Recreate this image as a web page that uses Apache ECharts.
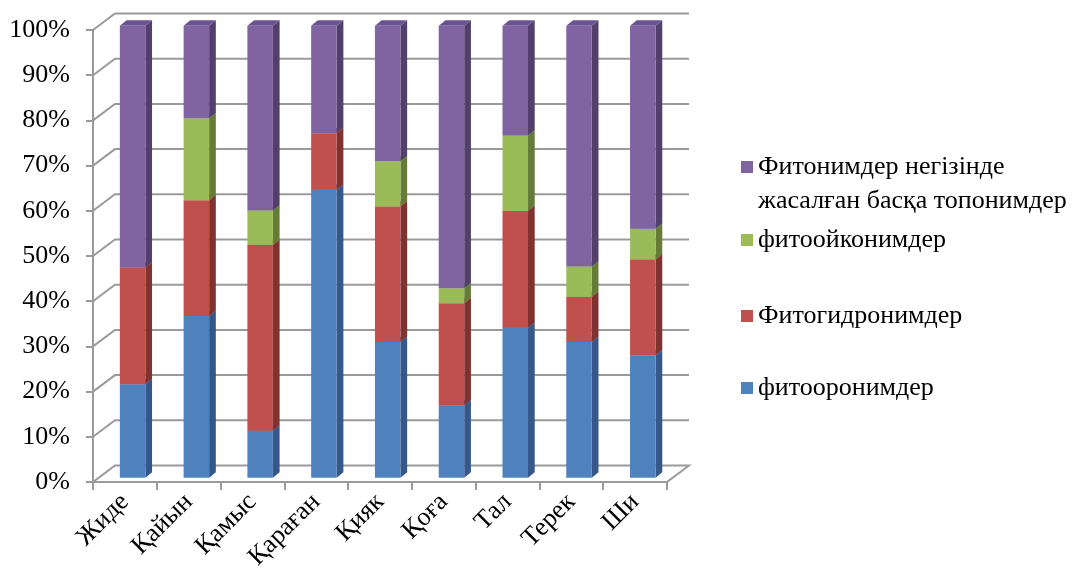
<!DOCTYPE html>
<html>
<head>
<meta charset="utf-8">
<script src="https://cdn.jsdelivr.net/npm/echarts@6/dist/echarts.min.js"></script>
<style>
  html, body { margin: 0; padding: 0; background: #ffffff; }
  #chart { width: 1075px; height: 574px; }
</style>
</head>
<body>
<div id="chart"></div>
<script>
// Categories (plant names) and the share of each toponym type, in percent
const categories = ['Жиде', 'Қайын', 'Қамыс', 'Қараған', 'Қияк', 'Қоға', 'Тал', 'Терек', 'Ши'];
const seriesNames = [
  'фитооронимдер',
  'Фитогидронимдер',
  'фитоойконимдер',
  'Фитонимдер негізінде жасалған басқа топонимдер'
];
const fitooronimder   = [20.7, 35.8, 10.4, 63.7, 30.0, 16.0, 33.2, 30.0, 27.1];
const fitogidronimder = [25.8, 25.6, 41.1, 12.5, 30.0, 22.6, 25.8, 10.0, 21.2];
const fitoojkonimder  = [0.0, 18.1, 7.6, 0.0, 10.0, 3.3, 16.7, 6.7, 6.8];
const baskaToponimder = [53.5, 20.5, 40.9, 23.8, 30.0, 58.1, 24.3, 53.3, 44.9];
const yTicks = [0, 10, 20, 30, 40, 50, 60, 70, 80, 90, 100];

const FONT = '"Liberation Serif", "Times New Roman", serif';
const FONT_SIZE = 26;
const GRID_COLOR = '#9a9a9a';
// 3D box: offset of the back wall from the front plane
const DEPTH = [22, -16.5];
// columns: front face offset from the front plane, and column depth
const BAR_FRONT = [7.7, -4.3];
const BAR_SIDE = [6.7, -5.4];
const BAR_WIDTH_RATIO = 0.40;

const faceColors = [
  { front: '#4F81BD', side: '#36578A', top: '#4673A9' },
  { front: '#C0504D', side: '#803230', top: '#A84542' },
  { front: '#9BBB59', side: '#657C36', top: '#87A44C' },
  { front: '#8064A2', side: '#523F6C', top: '#6A5390' }
];

// stack the four shares into [categoryIndex, start, end]
const valueSets = [fitooronimder, fitogidronimder, fitoojkonimder, baskaToponimder];
const runningTotal = categories.map(() => 0);
const stacked = valueSets.map(vals => vals.map((v, i) => {
  const s = runningTotal[i];
  runningTotal[i] += v;
  return [i, s, s + v];
}));

function renderColumn(colors) {
  return function (params, api) {
    const i = api.value(0);
    const v0 = api.value(1);
    const v1 = api.value(2);
    if (!(v1 - v0 > 0)) return { type: 'group', children: [] };
    const p0 = api.coord([i, v0]);
    const p1 = api.coord([i, v1]);
    const band = api.size([1, 0])[0];
    const w = band * BAR_WIDTH_RATIO;
    const xl = p0[0] - w / 2 + BAR_FRONT[0];
    const xr = xl + w;
    const yb = p0[1] + BAR_FRONT[1];
    const yt = p1[1] + BAR_FRONT[1];
    const dx = BAR_SIDE[0], dy = BAR_SIDE[1];
    return {
      type: 'group',
      children: [
        { type: 'polygon', shape: { points: [[xr, yb], [xr + dx, yb + dy], [xr + dx, yt + dy], [xr, yt]] },
          style: { fill: colors.side } },
        { type: 'polygon', shape: { points: [[xl, yt], [xr, yt], [xr + dx, yt + dy], [xl + dx, yt + dy]] },
          style: { fill: colors.top } },
        { type: 'rect', shape: { x: xl, y: yt, width: w, height: yb - yt },
          style: { fill: colors.front } }
      ]
    };
  };
}

// side wall diagonals and back wall gridlines, one polyline per tick value
function renderWall(params, api) {
  const v = api.value(1);
  const y = api.coord([0, v])[1];
  const cs = params.coordSys;
  const x0 = cs.x, x1 = cs.x + cs.width;
  const pts = [[x0, y], [x0 + DEPTH[0], y + DEPTH[1]], [x1 + DEPTH[0], y + DEPTH[1]]];
  if (v === 0) pts.push([x1, y]);
  return { type: 'polyline', shape: { points: pts },
           style: { stroke: GRID_COLOR, lineWidth: 2, fill: null } };
}

// one legend block per series, listed top-down from the last series
const LEGEND_LINE = 30;
const LEGEND_LINE_WRAPPED = 34;
const legendMarkerCenters = [388, 316, 240, 167];
const legends = seriesNames.map((name, k) => {
  const wrapped = k === 3;
  const lh = wrapped ? LEGEND_LINE_WRAPPED : LEGEND_LINE;
  // a wrapped label gets a leading blank line so that its first line sits beside the marker
  const blockHeight = wrapped ? lh * 3 : lh;
  const lg = {
    data: [name],
    left: 741,
    top: legendMarkerCenters[k] - blockHeight / 2,
    orient: 'vertical',
    icon: 'rect',
    itemWidth: 12,
    itemHeight: 12,
    padding: 0,
    selectedMode: false,
    textStyle: { fontFamily: FONT, fontSize: FONT_SIZE, color: '#000', lineHeight: lh }
  };
  if (wrapped) {
    lg.formatter = n => '\n' + n.replace(' жасалған', '\nжасалған');
  }
  return lg;
});

const chart = echarts.init(document.getElementById('chart'), null, { renderer: 'canvas' });
chart.setOption({
  animation: false,
  backgroundColor: '#ffffff',
  color: faceColors.map(c => c.front),
  legend: legends,
  grid: { left: 93, right: 408, top: 30, bottom: 92, containLabel: false },
  xAxis: {
    type: 'category',
    data: categories,
    boundaryGap: true,
    axisLine: { show: true, lineStyle: { color: GRID_COLOR, width: 2 } },
    axisTick: { show: true, length: 8, alignWithLabel: false, lineStyle: { color: GRID_COLOR, width: 2 } },
    axisLabel: { rotate: 45, margin: 16, fontFamily: FONT, fontSize: FONT_SIZE, color: '#000', interval: 0 },
    splitLine: { show: false }
  },
  yAxis: {
    type: 'value',
    min: 0,
    max: 100,
    interval: 10,
    axisLine: { show: true, lineStyle: { color: GRID_COLOR, width: 2 } },
    axisTick: { show: true, length: 7, lineStyle: { color: GRID_COLOR, width: 2 } },
    axisLabel: { formatter: v => v + '%', margin: 23, fontFamily: FONT, fontSize: FONT_SIZE, color: '#000' },
    splitLine: { show: false }
  },
  series: [
    {
      type: 'custom',
      name: 'walls',
      silent: true,
      clip: false,
      z: 1,
      encode: { x: 0, y: 1 },
      data: yTicks.map(v => [0, v]),
      renderItem: renderWall
    }
  ].concat(stacked.map((data, k) => ({
    type: 'custom',
    name: seriesNames[k],
    clip: false,
    z: 2 + k,
    itemStyle: { color: faceColors[k].front },
    encode: { x: 0, y: [1, 2] },
    data: data,
    renderItem: renderColumn(faceColors[k])
  })))
});
</script>
</body>
</html>
